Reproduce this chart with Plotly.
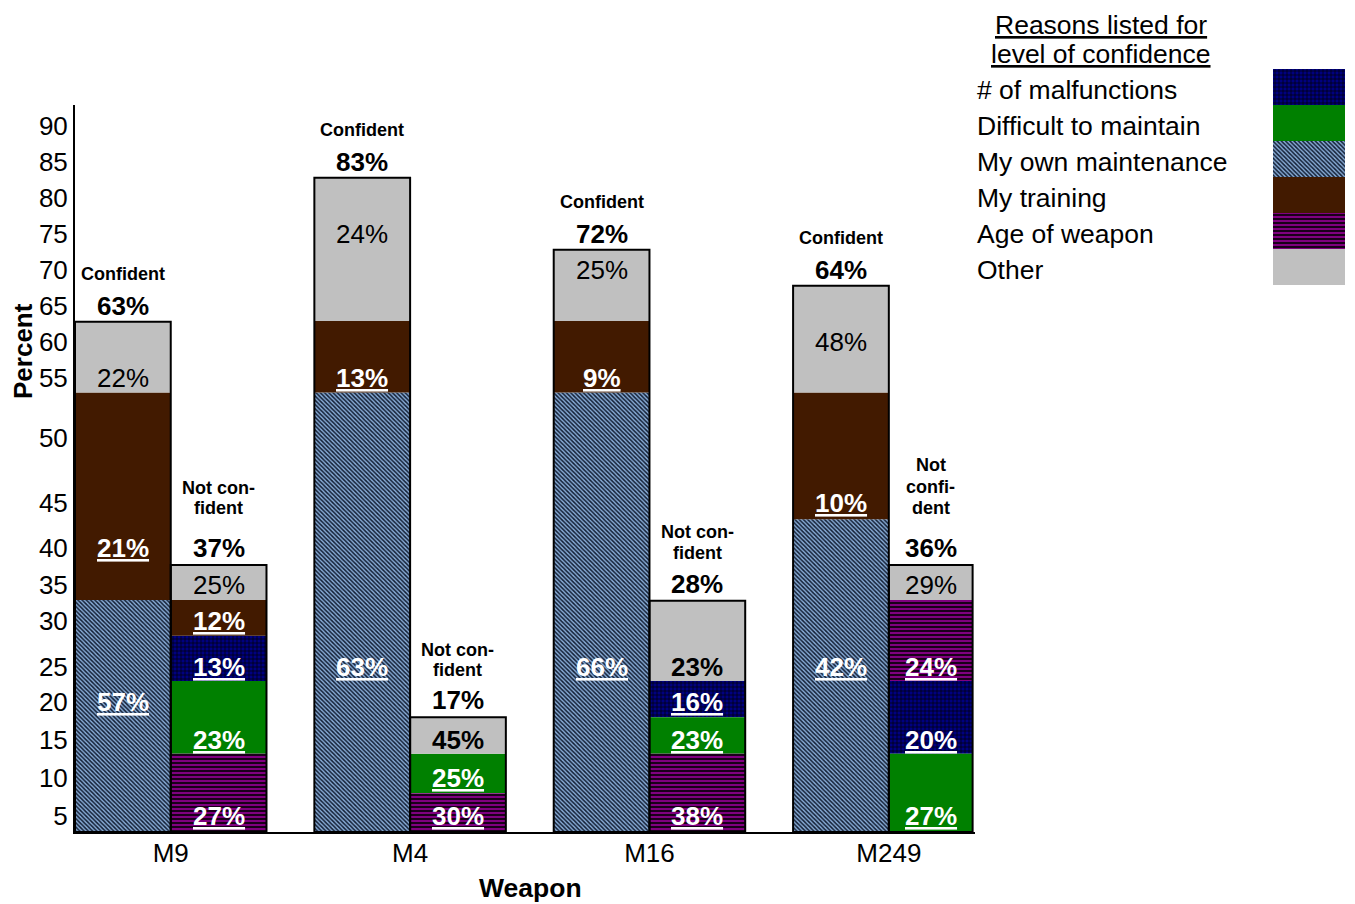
import numpy as np
import plotly.graph_objects as go

# ---------------- data ----------------
weapons = ["M9", "M4", "M16", "M249"]
confident_share = ["63%", "83%", "72%", "64%"]
not_confident_share = ["37%", "17%", "28%", "36%"]

reasons = ["# of malfunctions", "Difficult to maintain", "My own maintenance",
           "My training", "Age of weapon", "Other"]

y_tick_labels = [5, 10, 15, 20, 25, 30, 35, 40, 45, 50, 55, 60, 65, 70, 75, 80, 85, 90]

# segment stacks, bottom to top; tops read off the (non-linear) percent axis
m9_conf_reasons = ["My own maintenance", "My training", "Other"]
m9_conf_tops = [32.9, 53.8, 62.8]
m9_conf_text = ["57%", "21%", "22%"]

m9_nc_reasons = ["Age of weapon", "Difficult to maintain", "# of malfunctions", "My training", "Other"]
m9_nc_tops = [13.2, 23.0, 28.4, 32.9, 37.7]
m9_nc_text = ["27%", "23%", "13%", "12%", "25%"]

m4_conf_reasons = ["My own maintenance", "My training", "Other"]
m4_conf_tops = [53.8, 62.9, 82.8]
m4_conf_text = ["63%", "13%", "24%"]

m4_nc_reasons = ["Age of weapon", "Difficult to maintain", "Other"]
m4_nc_tops = [8.0, 13.2, 18.0]
m4_nc_text = ["30%", "25%", "45%"]

m16_conf_reasons = ["My own maintenance", "My training", "Other"]
m16_conf_tops = [53.8, 62.9, 72.8]
m16_conf_text = ["66%", "9%", "25%"]

m16_nc_reasons = ["Age of weapon", "Difficult to maintain", "# of malfunctions", "Other"]
m16_nc_tops = [13.2, 18.0, 23.0, 32.8]
m16_nc_text = ["38%", "23%", "16%", "23%"]

m249_conf_reasons = ["My own maintenance", "My training", "Other"]
m249_conf_tops = [43.2, 53.8, 67.8]
m249_conf_text = ["42%", "10%", "48%"]

m249_nc_reasons = ["Difficult to maintain", "# of malfunctions", "Age of weapon", "Other"]
m249_nc_tops = [13.2, 23.0, 32.9, 37.7]
m249_nc_text = ["27%", "20%", "24%", "29%"]

# ---------------- layout / style ----------------
# the page body has an 8px margin, so the figure is drawn 8px in from the corner
OFF = 8
W, H = 1355 - OFF, 904 - OFF
FONT = "Liberation Sans, Arial, sans-serif"


def PX(px):
    return (px - OFF) / W


def PY(py):
    return 1 - (py - OFF) / H


# the original axis is not linear: height of each tick above the baseline
y_tick_heights = [16, 54, 92, 130, 165, 211, 247, 284, 329, 394, 454, 490,
                  526, 562, 598, 634, 670, 706]
Y_TOP = 727


def to_axis(v):
    return np.interp(v, [0] + y_tick_labels, [0] + y_tick_heights)


# rows (in axis percent) where segment labels are centred
m9_conf_rows = [20, 40, 55]
m9_nc_rows = [5, 15, 25, 30, 35]
m4_conf_rows = [25, 55, 75]
m4_nc_rows = [5, 10, 15]
m16_conf_rows = [25, 55, 70]
m16_nc_rows = [5, 15, 20, 25]
m249_conf_rows = [25, 45, 60]
m249_nc_rows = [5, 15, 25, 35]

styles = {
    "# of malfunctions": dict(color="#000080",
                              pattern=dict(shape="+", bgcolor="#000080", fgcolor="#000000",
                                           size=4, solidity=0.3, fillmode="replace")),
    "Difficult to maintain": dict(color="#008000"),
    "My own maintenance": dict(color="#7c9cc0",
                               pattern=dict(shape="\\", bgcolor="#88acd6", fgcolor="#121e34",
                                            size=3, solidity=0.5, fillmode="replace")),
    "My training": dict(color="#421a00"),
    "Age of weapon": dict(color="#800080",
                          pattern=dict(shape="-", bgcolor="#800080", fgcolor="#000000",
                                       size=4, solidity=0.4, fillmode="replace")),
    "Other": dict(color="#c0c0c0"),
}

BW = 0.4
bars = [
    # (group, kind, x-centre, width, reasons, tops, texts, label rows)
    (0, "conf", 0 - BW / 2, BW, m9_conf_reasons, m9_conf_tops, m9_conf_text, m9_conf_rows),
    (0, "nc", 0 + BW / 2, BW, m9_nc_reasons, m9_nc_tops, m9_nc_text, m9_nc_rows),
    (1, "conf", 1 - BW / 2, BW, m4_conf_reasons, m4_conf_tops, m4_conf_text, m4_conf_rows),
    (1, "nc", 1 + BW / 2, BW, m4_nc_reasons, m4_nc_tops, m4_nc_text, m4_nc_rows),
    (2, "conf", 2 - BW / 2, BW, m16_conf_reasons, m16_conf_tops, m16_conf_text, m16_conf_rows),
    (2, "nc", 2 + BW / 2, BW, m16_nc_reasons, m16_nc_tops, m16_nc_text, m16_nc_rows),
    (3, "conf", 3 - BW / 2, BW, m249_conf_reasons, m249_conf_tops, m249_conf_text, m249_conf_rows),
    (3, "nc", 3 + 0.35 / 2, 0.35, m249_nc_reasons, m249_nc_tops, m249_nc_text, m249_nc_rows),
]

nc_caption_lines = [["Not con-", "fident"], ["Not con-", "fident"],
                    ["Not con-", "fident"], ["Not", "confi-", "dent"]]
nc_caption_shift = [[77, 57], [67, 47], [69, 48], [100, 78, 57]]
bold_other = {(1, "nc"), (2, "nc")}

fig = go.Figure()

# stacked segments, one trace per reason
for r in reasons:
    xs, bases, hs, ws = [], [], [], []
    for g, kind, xc, w, rs, tops, texts, rows in bars:
        bottoms = [0] + tops[:-1]
        for rr, b, t in zip(rs, bottoms, tops):
            if rr == r:
                xs.append(xc)
                bases.append(float(to_axis(b)))
                hs.append(float(to_axis(t) - to_axis(b)))
                ws.append(w)
    st = styles[r]
    marker = dict(color=st["color"], line=dict(width=0))
    if "pattern" in st:
        marker["pattern"] = st["pattern"]
    fig.add_trace(go.Bar(x=xs, y=hs, base=bases, width=ws, marker=marker,
                         name=r, showlegend=False, hoverinfo="skip",
                         xaxis="x", yaxis="y"))

# black outline around each whole bar
fig.add_trace(go.Bar(
    x=[b[2] for b in bars], y=[float(to_axis(b[5][-1])) for b in bars], base=[0] * len(bars),
    width=[b[3] for b in bars],
    marker=dict(color="rgba(0,0,0,0)", line=dict(color="black", width=2)),
    showlegend=False, hoverinfo="skip", xaxis="x", yaxis="y"))

LBL = 26
annotations = []
for g, kind, xc, w, rs, tops, texts, rows in bars:
    for rr, txt, row in zip(rs, texts, rows):
        if rr == "Other":
            bold = (g, kind) in bold_other
            t = f"<b>{txt}</b>" if bold else txt
            col = "black"
        else:
            t = f"<b><u>{txt}</u></b>"
            col = "white"
        annotations.append(dict(x=xc, y=float(to_axis(row)), xref="x", yref="y", text=t,
                                showarrow=False, font=dict(family=FONT, size=LBL, color=col),
                                xanchor="center", yanchor="middle"))
    top = float(to_axis(tops[-1]))
    if kind == "conf":
        annotations.append(dict(x=xc, y=top, xref="x", yref="y", yshift=16,
                                text=f"<b>{confident_share[g]}</b>", showarrow=False,
                                font=dict(family=FONT, size=LBL, color="black"),
                                xanchor="center", yanchor="middle"))
        annotations.append(dict(x=xc, y=top, xref="x", yref="y", yshift=48,
                                text="<b>Confident</b>", showarrow=False,
                                font=dict(family=FONT, size=18, color="black"),
                                xanchor="center", yanchor="middle"))
    else:
        annotations.append(dict(x=xc, y=top, xref="x", yref="y", yshift=17,
                                text=f"<b>{not_confident_share[g]}</b>", showarrow=False,
                                font=dict(family=FONT, size=LBL, color="black"),
                                xanchor="center", yanchor="middle"))
        for line, sh in zip(nc_caption_lines[g], nc_caption_shift[g]):
            annotations.append(dict(x=xc, y=top, xref="x", yref="y", yshift=sh,
                                    text=f"<b>{line}</b>", showarrow=False,
                                    font=dict(family=FONT, size=18, color="black"),
                                    xanchor="center", yanchor="middle"))

# axis titles
annotations.append(dict(x=PX(530), y=PY(888), xref="paper", yref="paper",
                        text="<b>Weapon</b>", showarrow=False,
                        font=dict(family=FONT, size=26.5, color="black"),
                        xanchor="center", yanchor="middle"))
annotations.append(dict(x=PX(23), y=PY(351), xref="paper", yref="paper",
                        text="<b>Percent</b>", showarrow=False, textangle=-90,
                        font=dict(family=FONT, size=26, color="black"),
                        xanchor="center", yanchor="middle"))

# legend (drawn by hand to match the original)
LEG = 26.5
annotations.append(dict(x=PX(1101), y=PY(25), xref="paper", yref="paper",
                        text="<u>Reasons listed for</u>", showarrow=False,
                        font=dict(family=FONT, size=LEG, color="black"),
                        xanchor="center", yanchor="middle"))
annotations.append(dict(x=PX(1101), y=PY(54), xref="paper", yref="paper",
                        text="<u>level of confidence</u>", showarrow=False,
                        font=dict(family=FONT, size=LEG, color="black"),
                        xanchor="center", yanchor="middle"))
for i, r in enumerate(reasons):
    annotations.append(dict(x=PX(975), y=PY(90 + 36 * i), xref="paper", yref="paper",
                            text=r, showarrow=False,
                            font=dict(family=FONT, size=LEG, color="black"),
                            xanchor="left", yanchor="middle"))

# legend swatches on their own small axes
n = len(reasons)
for i, r in enumerate(reasons):
    st = styles[r]
    marker = dict(color=st["color"], line=dict(width=0))
    if "pattern" in st:
        marker["pattern"] = st["pattern"]
    fig.add_trace(go.Bar(x=[0], y=[1], base=[n - 1 - i], width=[1], marker=marker,
                         showlegend=False, hoverinfo="skip", xaxis="x2", yaxis="y2"))

fig.update_layout(
    width=W, height=H,
    margin=dict(l=0, r=0, t=0, b=0),
    paper_bgcolor="white", plot_bgcolor="white",
    barmode="overlay",
    showlegend=False,
    annotations=annotations,
    xaxis=dict(domain=[PX(75), PX(975)], range=[-0.4, 3.36],
               tickvals=list(range(len(weapons))), ticktext=weapons,
               showgrid=False, zeroline=False, showline=True, linecolor="black", linewidth=2,
               ticks="", ticklabelstandoff=-3,
               tickfont=dict(family=FONT, size=26, color="black")),
    yaxis=dict(domain=[PY(832), PY(105)], range=[0, Y_TOP],
               tickvals=y_tick_heights, ticktext=[str(v) for v in y_tick_labels],
               showgrid=False, zeroline=False, showline=True, linecolor="black", linewidth=2,
               ticks="", tickfont=dict(family=FONT, size=26, color="black")),
    xaxis2=dict(domain=[PX(1273), PX(1345)], range=[-0.5, 0.5], visible=False,
                anchor="y2"),
    yaxis2=dict(domain=[PY(285), PY(69)], range=[0, n], visible=False,
                anchor="x2"),
)

fig.write_html("out.html")
